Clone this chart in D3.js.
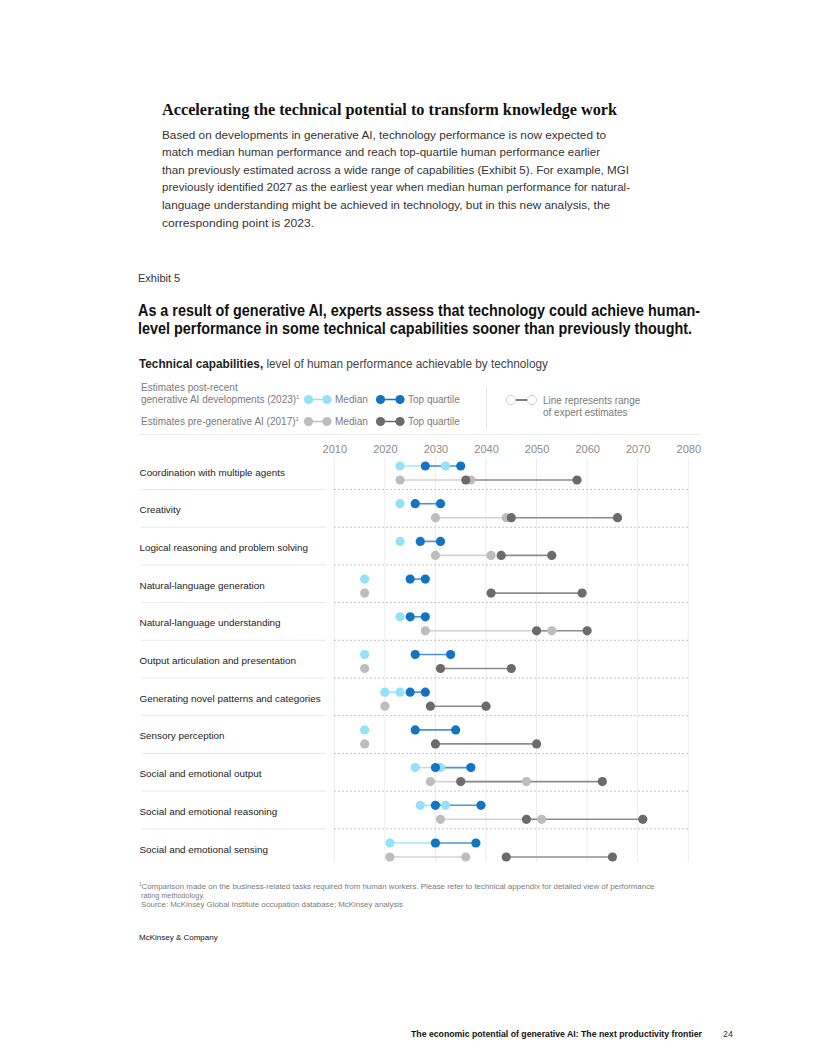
<!DOCTYPE html>
<html>
<head>
<meta charset="utf-8">
<script src="https://cdn.jsdelivr.net/npm/d3@7"></script>
<style>
  html, body { margin: 0; padding: 0; background: #fff; }
  svg { display: block; }
  text { font-family: "Liberation Sans", Arial, sans-serif; }
</style>
</head>
<body>
<svg id="chart" width="816" height="1056"></svg>
<script>
// ---------------- DATA ----------------
const categories = [
  "Coordination with multiple agents",
  "Creativity",
  "Logical reasoning and problem solving",
  "Natural-language generation",
  "Natural-language understanding",
  "Output articulation and presentation",
  "Generating novel patterns and categories",
  "Sensory perception",
  "Social and emotional output",
  "Social and emotional reasoning",
  "Social and emotional sensing"
];
// [start, end] year of expert estimate range
const postMedian = [[2023,2032],[2023,2023],[2023,2023],[2016,2016],[2023,2023],[2016,2016],[2020,2023],[2016,2016],[2026,2031],[2027,2032],[2021,2030]];
const postTop    = [[2028,2035],[2026,2031],[2027,2031],[2025,2028],[2025,2028],[2026,2033],[2025,2028],[2026,2034],[2030,2037],[2030,2039],[2030,2038]];
const preMedian  = [[2023,2037],[2030,2044],[2030,2041],[2016,2016],[2028,2053],[2016,2016],[2020,2020],[2016,2016],[2029,2048],[2031,2051],[2021,2036]];
const preTop     = [[2036,2058],[2045,2066],[2043,2053],[2041,2059],[2050,2060],[2031,2045],[2029,2040],[2030,2050],[2035,2063],[2048,2071],[2044,2065]];
const tickYears  = [2010,2020,2030,2040,2050,2060,2070,2080];

const bodyLines = [
  "Based on developments in generative AI, technology performance is now expected to",
  "match median human performance and reach top-quartile human performance earlier",
  "than previously estimated across a wide range of capabilities (Exhibit 5). For example, MGI",
  "previously identified 2027 as the earliest year when median human performance for natural-",
  "language understanding might be achieved in technology, but in this new analysis, the",
  "corresponding point is 2023."
];
const bodyWidths = [444, 438, 467, 468, 448, 152];
const titleLines = [
  "As a result of generative AI, experts assess that technology could achieve human-",
  "level performance in some technical capabilities sooner than previously thought."
];
const footLines = [
  "Comparison made on the business-related tasks required from human workers. Please refer to technical appendix for detailed view of performance",
  "rating methodology.",
  "Source: McKinsey Global Institute occupation database; McKinsey analysis"
];

// ---------------- STYLE ----------------
const C = {
  lightBlue: "#94e1fb", darkBlue: "#1474c4",
  lightBlueLine: "#a8e3f8", darkBlueLine: "#4b93d2",
  lightGray: "#bdbdbd", darkGray: "#6b6b6b",
  lightGrayLine: "#d2d2d2", darkGrayLine: "#8c8c8c"
};
const R = 4.6;

const svg = d3.select("#chart");
function fit(sel, w) { return sel.attr("textLength", w).attr("lengthAdjust", "spacingAndGlyphs"); }

// ---------------- HEADER TEXT ----------------
fit(svg.append("text").attr("x", 162).attr("y", 115)
  .style("font-family", "'Liberation Serif', 'DejaVu Serif', serif")
  .attr("font-weight", "bold").attr("font-size", 16.5).attr("fill", "#111")
  .text("Accelerating the technical potential to transform knowledge work"), 455);

bodyLines.forEach((t, i) => {
  fit(svg.append("text").attr("x", 162).attr("y", 138.5 + i * 17.6)
    .attr("font-size", 11.8).attr("fill", "#333").text(t), bodyWidths[i]);
});

svg.append("text").attr("x", 138).attr("y", 282).attr("font-size", 11)
  .attr("fill", "#333").text("Exhibit 5");

titleLines.forEach((t, i) => {
  fit(svg.append("text").attr("x", 138).attr("y", 316 + i * 18)
    .attr("font-weight", "bold").attr("font-size", 16).attr("fill", "#111").text(t),
    i === 0 ? 562 : 554);
});

const sub = fit(svg.append("text").attr("x", 139).attr("y", 368).attr("font-size", 12).attr("fill", "#222"), 409);
sub.append("tspan").attr("font-weight", "bold").text("Technical capabilities,");
sub.append("tspan").attr("fill", "#444").text(" level of human performance achievable by technology");

// ---------------- LEGEND ----------------
const lg = svg.append("g").attr("font-size", 10).attr("fill", "#7a7a7a");
lg.append("text").attr("x", 141).attr("y", 391).text("Estimates post-recent");
const l2 = lg.append("text").attr("x", 141).attr("y", 403);
l2.append("tspan").text("generative AI developments (2023)");
l2.append("tspan").attr("font-size", 6).attr("dy", -4).text("1");
const l3 = lg.append("text").attr("x", 141).attr("y", 425);
l3.append("tspan").text("Estimates pre-generative AI (2017)");
l3.append("tspan").attr("font-size", 6).attr("dy", -4).text("1");

function legendPair(x1, x2, y, dot, line, label) {
  lg.append("line").attr("x1", x1).attr("x2", x2).attr("y1", y).attr("y2", y)
    .attr("stroke", line).attr("stroke-width", 1.5);
  [x1, x2].forEach(x => lg.append("circle").attr("cx", x).attr("cy", y).attr("r", R).attr("fill", dot));
  lg.append("text").attr("x", x2 + 8).attr("y", y + 3.5).text(label);
}
legendPair(308.5, 327, 399.5, C.lightBlue, C.lightBlue, "Median");
legendPair(380.5, 400, 399.5, C.darkBlue, C.darkBlue, "Top quartile");
legendPair(308.5, 327, 421.5, C.lightGray, C.lightGray, "Median");
legendPair(380.5, 400, 421.5, C.darkGray, C.darkGray, "Top quartile");

lg.append("line").attr("x1", 486.5).attr("x2", 486.5).attr("y1", 387).attr("y2", 429)
  .attr("stroke", "#e6e6e6");
lg.append("line").attr("x1", 511).attr("x2", 532).attr("y1", 400).attr("y2", 400)
  .attr("stroke", "#555").attr("stroke-width", 1.5);
[511, 532].forEach(x => lg.append("circle").attr("cx", x).attr("cy", 400).attr("r", R)
  .attr("fill", "#fff").attr("stroke", "#d0d0d0").attr("stroke-width", 1));
lg.append("text").attr("x", 543).attr("y", 404).text("Line represents range");
lg.append("text").attr("x", 543).attr("y", 416).text("of expert estimates");

svg.append("line").attr("x1", 139).attr("x2", 700).attr("y1", 434.5).attr("y2", 434.5)
  .attr("stroke", "#ebebeb");

// ---------------- CHART ----------------
const x = d3.scaleLinear().domain([2010, 2080]).range([334.3, 688.3]);
const y = d3.scalePoint().domain(categories).range([473, 850]);
const off = 7;

// vertical gridlines
svg.append("g").selectAll("line").data(tickYears).join("line")
  .attr("x1", d => x(d)).attr("x2", d => x(d)).attr("y1", 458).attr("y2", 862)
  .attr("stroke", "#ececec").attr("stroke-width", 1);

// axis labels
const axis = svg.append("g").attr("transform", "translate(0,455)")
  .call(d3.axisTop(x).tickValues(tickYears).tickFormat(d3.format("d")).tickSize(0).tickPadding(2));
axis.select(".domain").remove();
axis.selectAll("text").attr("font-size", 11).attr("fill", "#8a8a8a")
  .style("font-family", "'Liberation Sans', Arial, sans-serif");

// separators
const seps = categories.slice(0, -1);
svg.append("g").selectAll("line").data(seps).join("line")
  .attr("x1", 141).attr("x2", 326)
  .attr("y1", d => y(d) + 16.5).attr("y2", d => y(d) + 16.5)
  .attr("stroke", "#e8e8e8");
svg.append("g").selectAll("line").data(seps).join("line")
  .attr("x1", 334).attr("x2", 689)
  .attr("y1", d => y(d) + 16.5).attr("y2", d => y(d) + 16.5)
  .attr("stroke", "#c4c4c4").attr("stroke-dasharray", "2,2");

// category labels
svg.append("g").selectAll("text").data(categories).join("text")
  .attr("x", 139.5).attr("y", d => y(d) + 2.5)
  .attr("font-size", 9.9).attr("fill", "#222").text(d => d);

// ranges and dots
const series = [
  { data: postMedian, dy: -off, dot: C.lightBlue, line: C.lightBlueLine },
  { data: postTop,    dy: -off, dot: C.darkBlue,  line: C.darkBlueLine },
  { data: preMedian,  dy: off,  dot: C.lightGray, line: C.lightGrayLine },
  { data: preTop,     dy: off,  dot: C.darkGray,  line: C.darkGrayLine }
];
const gLines = svg.append("g"), gDots = svg.append("g");
series.forEach(s => {
  const rows = s.data.map((r, i) => ({ cat: categories[i], a: r[0], b: r[1] }));
  gLines.append("g").selectAll("line").data(rows.filter(r => r.a !== r.b)).join("line")
    .attr("x1", d => x(d.a)).attr("x2", d => x(d.b))
    .attr("y1", d => y(d.cat) + s.dy).attr("y2", d => y(d.cat) + s.dy)
    .attr("stroke", s.line).attr("stroke-width", 1.6);
  const pts = rows.flatMap(r => r.a === r.b ? [{ cat: r.cat, v: r.a }] : [{ cat: r.cat, v: r.a }, { cat: r.cat, v: r.b }]);
  gDots.append("g").selectAll("circle").data(pts).join("circle")
    .attr("cx", d => x(d.v)).attr("cy", d => y(d.cat) + s.dy).attr("r", R).attr("fill", s.dot);
});

// ---------------- FOOTNOTES ----------------
const fn = svg.append("g").attr("font-size", 7.3).attr("fill", "#7a7a7a");
footLines.forEach((t, i) => {
  const tx = fn.append("text").attr("x", i === 0 ? 139 : 141).attr("y", 888.5 + i * 9.3);
  if (i === 0) {
    tx.append("tspan").attr("font-size", 4.5).attr("dy", -2.5).text("1");
    fit(tx.append("tspan").attr("dy", 2.5).text(t), 513);
  } else if (i === 2) {
    fit(tx.text(t), 262);
  } else {
    tx.text(t);
  }
});

svg.append("text").attr("x", 139).attr("y", 939.5).attr("font-size", 8).attr("fill", "#111")
  .text("McKinsey & Company");

fit(svg.append("text").attr("x", 411).attr("y", 1036.5).attr("font-size", 8.8).attr("font-weight", "bold")
  .attr("fill", "#111").text("The economic potential of generative AI: The next productivity frontier"), 291);
svg.append("text").attr("x", 723).attr("y", 1036.5).attr("font-size", 8.8).attr("fill", "#333").text("24");
</script>
</body>
</html>
